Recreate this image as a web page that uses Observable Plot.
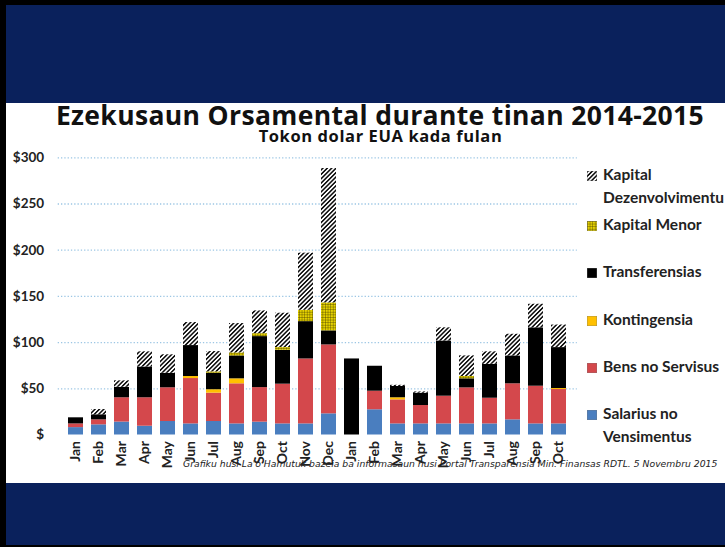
<!DOCTYPE html>
<html>
<head>
<meta charset="utf-8">
<script src="https://cdn.jsdelivr.net/npm/d3@7"></script>
<script src="https://cdn.jsdelivr.net/npm/@observablehq/plot@0.6"></script>
<style>
  html, body { margin: 0; padding: 0; background: #000; }
  #page { position: relative; width: 725px; height: 547px; overflow: hidden; background: #000; }
  .band { position: absolute; left: 6px; right: 0; background: #0a215c; }
  #white { position: absolute; left: 6px; right: 0; top: 103px; height: 380px; background: #fff; }
  #title { position: absolute; left: 0; width: 760px; top: 104px; text-align: center; line-height: 0.9;
           font-family: "Open Sans", sans-serif; font-weight: 700; font-size: 26.5px; letter-spacing: 0.35px; color: #111; white-space: nowrap; }
  #subtitle { position: absolute; left: 0; width: 761px; top: 129px; text-align: center; line-height: 0.9;
           font-family: "Open Sans", sans-serif; font-weight: 700; font-size: 16.5px; letter-spacing: 0.6px; color: #111; white-space: nowrap; }
  #chart { position: absolute; left: 0; top: 148px; }
  #legend { position: absolute; left: 587px; top: 0; font-family: Lato, sans-serif; font-weight: 700; font-size: 15.5px; color: #222; }
  .li { position: absolute; left: 0; white-space: nowrap; line-height: 16px; }
  .li svg { position: absolute; left: 0; top: 4px; }
  .li span { position: absolute; left: 16px; top: -4px; line-height: 23px; }
  #footer { position: absolute; left: 183px; top: 458px; white-space: nowrap;
            font-family: "DejaVu Sans", sans-serif; font-style: italic; font-size: 9.25px; color: #222; }
</style>
</head>
<body>
<svg width="0" height="0" style="position:absolute">
  <defs>
    <pattern id="hatch" patternUnits="userSpaceOnUse" width="3.1" height="3.1" patternTransform="rotate(45)">
      <rect width="3.1" height="3.1" fill="#fff"/>
      <rect x="0" y="0" width="1.55" height="3.1" fill="#111"/>
    </pattern>
    <pattern id="grid" patternUnits="userSpaceOnUse" width="2.6" height="2.6">
      <rect width="2.6" height="2.6" fill="#e6d200"/>
      <path d="M0,0H2.6M0,0V2.6" stroke="#3f3800" stroke-width="0.75"/>
    </pattern>
  </defs>
</svg>
<div id="page">
  <div class="band" style="top:5px;height:98px"></div>
  <div id="white"></div>
  <div class="band" style="top:483px;height:62px"></div>
  <div id="title">Ezekusaun Orsamental durante tinan 2014-2015</div>
  <div id="subtitle">Tokon dolar EUA kada fulan</div>
  <div id="chart"></div>
  <div id="legend"></div>
  <div id="footer">Grafiku husi La'o Hamutuk bazeia ba informasaun husi Portal Transparensia Min. Finansas RDTL. 5 Novembru 2015</div>
</div>
<script>
// Months (Jan 2014 – Oct 2015)
const monthLabels = ["Jan","Feb","Mar","Apr","May","Jun","Jul","Aug","Sep","Oct","Nov","Dec",
                     "Jan","Feb","Mar","Apr","May","Jun","Jul","Aug","Sep","Oct"];
const years = [2014,2014,2014,2014,2014,2014,2014,2014,2014,2014,2014,2014,
               2015,2015,2015,2015,2015,2015,2015,2015,2015,2015];

// Series names (bottom to top)
const seriesNames = ["Salarius no Vensimentus","Bens no Servisus","Kontingensia","Transferensias","Kapital Menor","Kapital Dezenvolvimentu"];
const seriesColors = ["#4a7ebf","#d4484c","#ffc000","#000000","url(#grid)","url(#hatch)"];

// Values, million US$
const salarius       = [8, 11, 14, 9.5, 14.6, 12, 14.6, 12, 13.9, 12, 12, 22.9, 0, 27.3, 12, 12, 12, 12, 12, 16.4, 12, 12];
const bens           = [4, 5.4, 26.3, 30.8, 36.5, 49.1, 30.7, 43.4, 37.4, 43, 70.3, 74.6, 0, 20.1, 26, 19.9, 30, 39, 27.8, 39, 40.8, 37.2];
const kontingensia   = [0, 0, 0, 0, 0, 2.2, 3.7, 5.4, 0, 0, 0, 0, 0, 0, 2.3, 0, 0, 0, 0, 0, 0, 1.1];
const transferensias = [6.6, 5.5, 11.4, 33.3, 15.7, 33.5, 17.8, 24.8, 55.2, 36.7, 40.4, 15.1, 82.3, 27, 12.2, 13.4, 59.8, 9.8, 36.7, 30.2, 63.2, 44.3];
const kapitalMenor   = [0, 0, 0, 0, 0, 0, 1.5, 3.2, 3.2, 2.9, 12.3, 30.4, 0, 0, 0, 0, 0, 2.5, 0, 0, 0, 0];
const kapitalDezenv  = [0, 5.7, 6.9, 16.4, 20, 24.9, 22, 31.8, 24.6, 37.2, 61.8, 145.4, 0, 0, 1.3, 1.3, 14.2, 22.3, 13.5, 23.4, 25.5, 24.4];

const yTicks = [0, 50, 100, 150, 200, 250, 300];

const seriesValues = [salarius, bens, kontingensia, transferensias, kapitalMenor, kapitalDezenv];
const keys = monthLabels.map((m, i) => `${m} ${years[i]}`);
const rows = [];
seriesNames.forEach((s, si) => {
  keys.forEach((k, i) => rows.push({month: k, series: s, value: seriesValues[si][i]}));
});

const chart = Plot.plot({
  width: 725,
  height: 335,
  marginTop: 9.3,
  marginBottom: 48.5,
  marginLeft: 57.7,
  marginRight: 148.2,
  style: {fontFamily: "Lato, sans-serif", fontWeight: 700, fontSize: "12px", color: "#222", background: "transparent"},
  x: {domain: keys, padding: 0.36, label: null},
  y: {domain: [0, 300], label: null},
  color: {domain: seriesNames, range: seriesColors},
  marks: [
    Plot.ruleY(yTicks.slice(1), {stroke: "#9cc6e4", strokeWidth: 1.3, strokeDasharray: "1.3,2"}),
    Plot.barY(rows, {x: "month", y: "value", fill: "series", order: seriesNames}),
    Plot.axisX({tickSize: 0, tickPadding: 6, tickRotate: -90, tickFormat: d => d.slice(0, 3), fontSize: 14, fontWeight: 700, label: null}),
    Plot.axisY({ticks: yTicks, tickSize: 0, tickPadding: 14, tickFormat: d => d === 0 ? "$" : "$" + d, fontSize: 13.5, fontWeight: 700, label: null})
  ]
});
document.getElementById("chart").appendChild(chart);

// Legend (top to bottom)
const legendItems = [
  {series: "Kapital Dezenvolvimentu", lines: ["Kapital", "Dezenvolvimentu"], y: 167},
  {series: "Kapital Menor", lines: ["Kapital Menor"], y: 217},
  {series: "Transferensias", lines: ["Transferensias"], y: 264},
  {series: "Kontingensia", lines: ["Kontingensia"], y: 312},
  {series: "Bens no Servisus", lines: ["Bens no Servisus"], y: 359},
  {series: "Salarius no Vensimentus", lines: ["Salarius no", "Vensimentus"], y: 406}
];
const legend = document.getElementById("legend");
legendItems.forEach(item => {
  const color = seriesColors[seriesNames.indexOf(item.series)];
  const div = document.createElement("div");
  div.className = "li";
  div.style.top = item.y + "px";
  div.innerHTML = `<svg width="10" height="10"><rect width="10" height="10" fill="${color}" stroke="#777" stroke-width="0.6"/></svg>` +
    `<span>${item.lines.join("<br>")}</span>`;
  legend.appendChild(div);
});
</script>
</body>
</html>
